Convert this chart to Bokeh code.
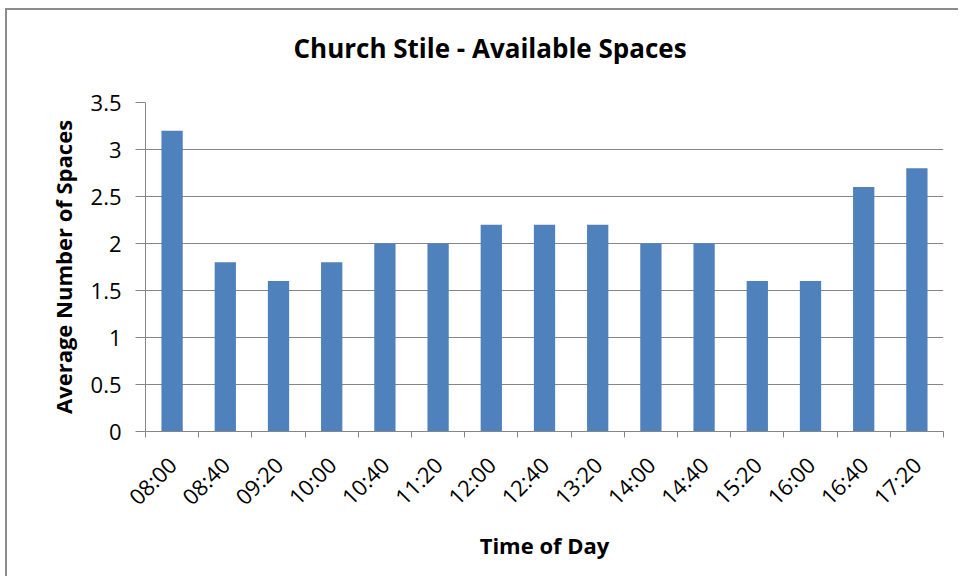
import math
from bokeh.plotting import figure
from bokeh.models import ColumnDataSource, Range1d, FixedTicker, NumeralTickFormatter, Title
from bokeh.embed import file_html
from bokeh.resources import INLINE

times = ["08:00", "08:40", "09:20", "10:00", "10:40", "11:20", "12:00", "12:40",
         "13:20", "14:00", "14:40", "15:20", "16:00", "16:40", "17:20"]
spaces = [3.2, 1.8, 1.6, 1.8, 2.0, 2.0, 2.2, 2.2, 2.2, 2.0, 2.0, 1.6, 1.6, 2.6, 2.8]
y_ticks = [0, 0.5, 1, 1.5, 2, 2.5, 3, 3.5]

title_text = "Church Stile - Available Spaces"
x_title = "Time of Day"
y_title = "Average Number of Spaces"

FONT = "Open Sans"
GRID = "#868686"
BAR = "#4F81BD"

xs = [i + 0.5 for i in range(len(times))]
src = ColumnDataSource(dict(x=xs, top=spaces, t=times))

p = figure(width=953, height=568, output_backend="svg", toolbar_location=None,
           x_range=Range1d(0, len(times)), y_range=Range1d(0, 3.5),
           min_border_left=138, min_border_right=17, min_border_top=92, min_border_bottom=147,
           title=title_text)
p.styles = {"border-left": "2px solid #8c8c8c", "border-top": "2px solid #8c8c8c",
            "margin-left": "5px", "margin-top": "8px"}
p.outline_line_color = None
p.background_fill_color = "white"
p.border_fill_color = "white"

p.title.align = "left"
p.title.offset = 148
p.title.vertical_align = "top"
p.title.text_font = FONT
p.title.text_font_size = "26px"
p.title.text_font_style = "bold"
p.title.text_color = "black"
p.title.standoff = 0

# empty spacer between the title and the plot area
p.add_layout(Title(text=" ", text_font_size="10px", standoff=22), "above")

p.vbar(x="x", top="top", bottom=0, width=0.4, source=src,
       fill_color=BAR, line_color=None)

# x axis
xa = p.xaxis[0]
xa.ticker = FixedTicker(ticks=xs, minor_ticks=list(range(len(times) + 1)))
xa.major_label_overrides = {x: t for x, t in zip(xs, times)}
xa.major_tick_line_color = None
xa.minor_tick_line_color = GRID
xa.minor_tick_out = 6
xa.minor_tick_in = 0
xa.axis_line_color = GRID
xa.major_label_orientation = math.pi / 4
xa.major_label_text_font = FONT
xa.major_label_text_font_size = "22px"
xa.major_label_text_color = "black"
xa.major_label_standoff = 23
xa.axis_label = x_title
xa.axis_label_text_font = FONT
xa.axis_label_text_font_size = "22px"
xa.axis_label_text_font_style = "bold"
xa.axis_label_text_color = "black"
xa.axis_label_standoff = 6

# y axis
ya = p.yaxis[0]
ya.ticker = FixedTicker(ticks=y_ticks)
ya.formatter = NumeralTickFormatter(format="0.[0]")
ya.axis_line_color = GRID
ya.major_tick_line_color = GRID
ya.major_tick_out = 10
ya.major_tick_in = 0
ya.minor_tick_line_color = None
ya.major_label_text_font = FONT
ya.major_label_text_font_size = "22px"
ya.major_label_text_color = "black"
ya.major_label_standoff = 14
ya.axis_label = y_title
ya.axis_label_text_font = FONT
ya.axis_label_text_font_size = "22px"
ya.axis_label_text_font_style = "bold"
ya.axis_label_text_color = "black"
ya.axis_label_standoff = 10

p.xgrid.grid_line_color = None
p.ygrid.grid_line_color = GRID
p.ygrid.ticker = FixedTicker(ticks=y_ticks)

open("out.html", "w").write(file_html(p, INLINE))
